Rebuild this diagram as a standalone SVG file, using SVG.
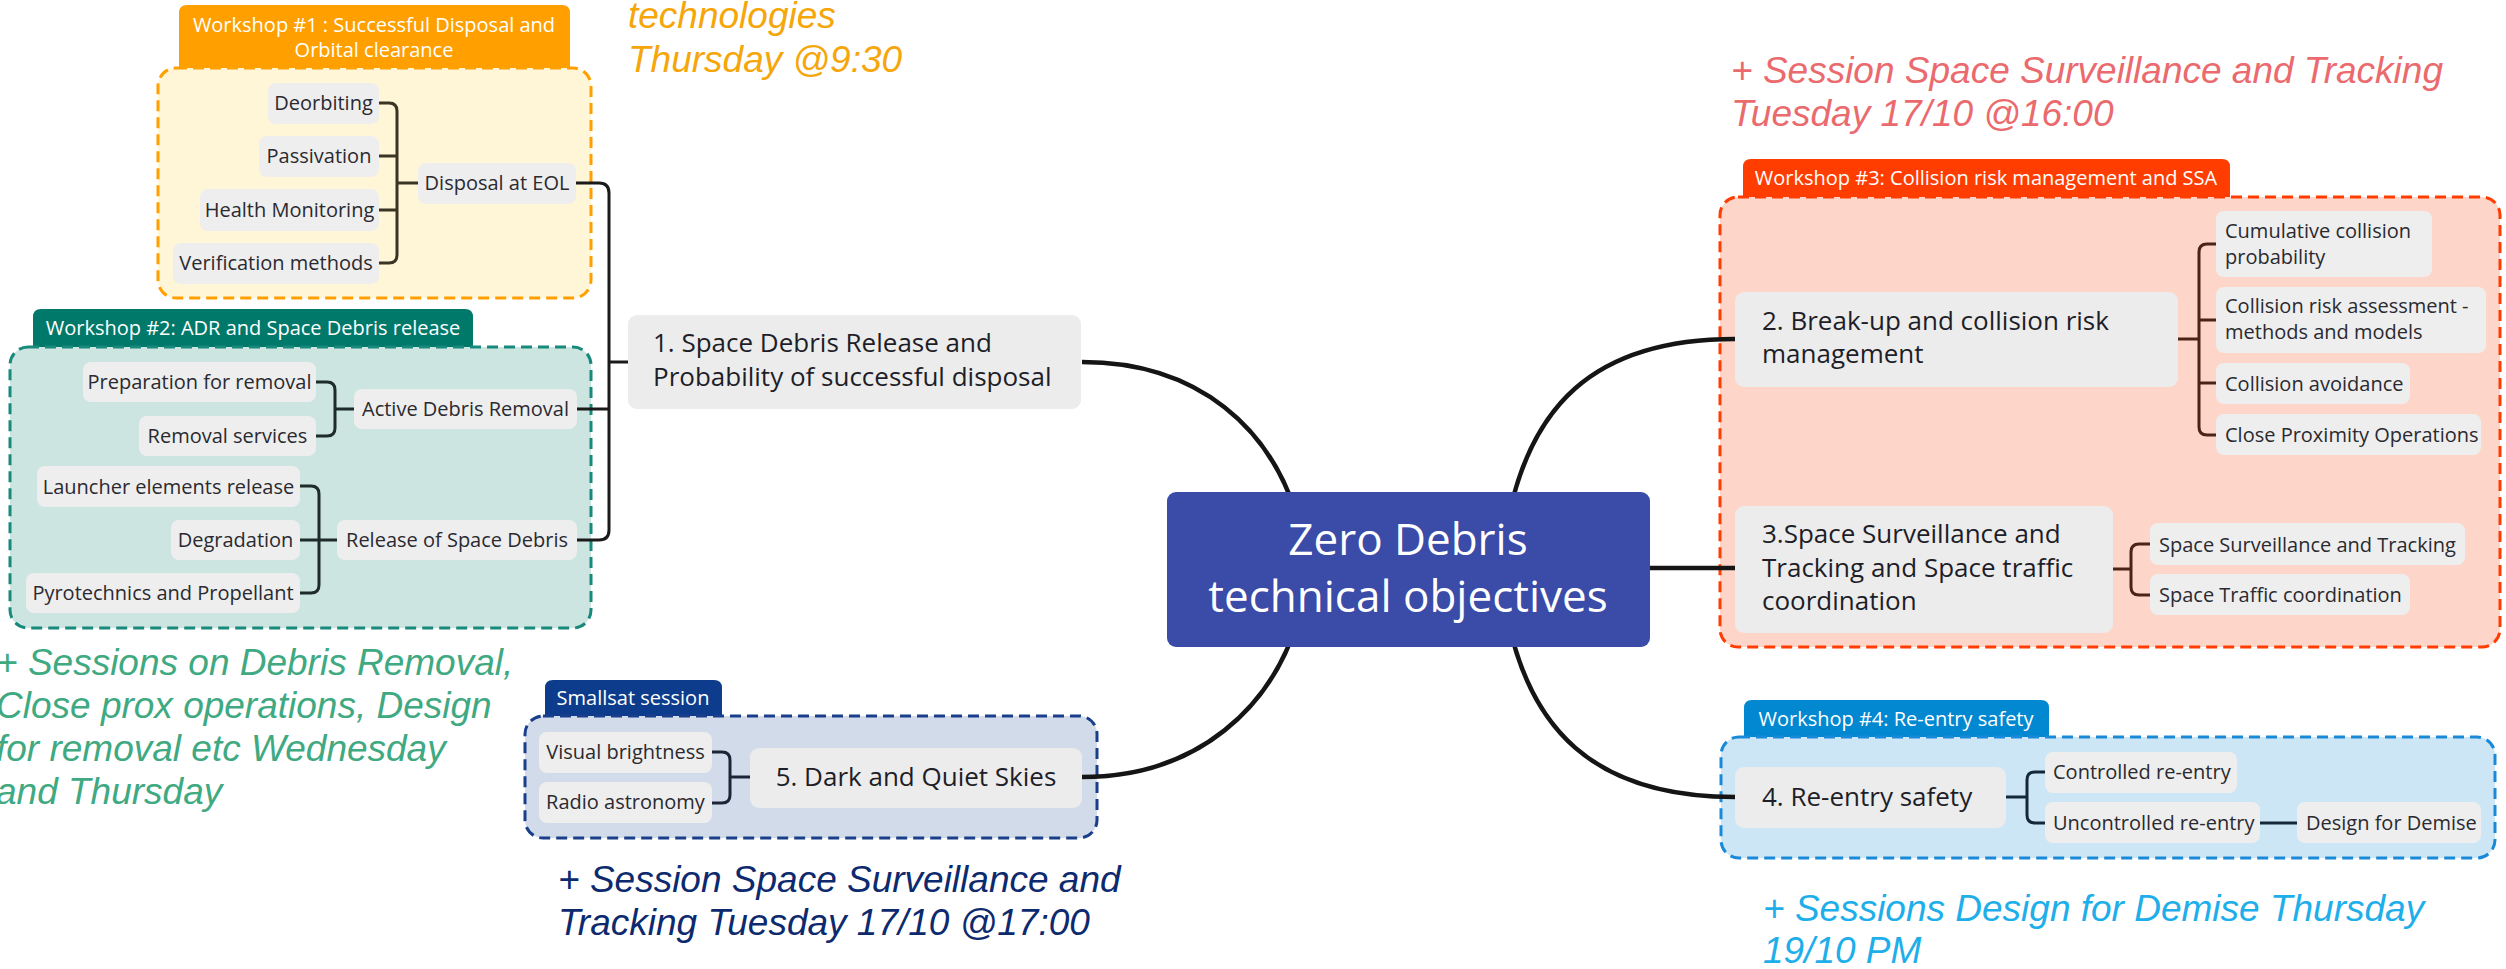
<svg xmlns="http://www.w3.org/2000/svg" width="2506" height="969" viewBox="0 0 2506 969">
<style>
.node{fill:#ececec}
.child{fill:#eeeeee}
.nt{font-family:"Open Sans","Noto Sans",sans-serif;font-size:26px;fill:#1e1e28}
.ct{font-family:"Open Sans","Noto Sans",sans-serif;font-size:20px;fill:#2a2a30;text-anchor:middle}
.ctl{font-family:"Open Sans","Noto Sans",sans-serif;font-size:20px;fill:#2a2a30}
.tt{font-family:"Open Sans","Noto Sans",sans-serif;font-size:20px;fill:#ffffff;text-anchor:middle}
.dash{stroke-width:3;stroke-dasharray:11 6}
.main{fill:none;stroke:#151515;stroke-width:4.5}
.br{fill:none;stroke-width:3}
.note{font-family:"Liberation Sans",Arial,sans-serif;font-style:italic;font-size:37px}
</style>

<!-- annotations -->
<g id="notes">
<text class="note" x="628" y="28" fill="#f5a60a">technologies</text>
<text class="note" x="628" y="72" fill="#f5a60a">Thursday @9:30</text>
<text class="note" x="1731" y="83" fill="#ea6a6e">+ Session Space Surveillance and Tracking</text>
<text class="note" x="1731" y="126" fill="#ea6a6e">Tuesday 17/10 @16:00</text>
<text class="note" x="-4" y="675" fill="#3fa982">+ Sessions on Debris Removal,</text>
<text class="note" x="-4" y="718" fill="#3fa982">Close prox operations, Design</text>
<text class="note" x="-4" y="761" fill="#3fa982">for removal etc Wednesday</text>
<text class="note" x="-4" y="804" fill="#3fa982">and Thursday</text>
<text class="note" x="558" y="892" fill="#0d2a6e">+ Session Space Surveillance and</text>
<text class="note" x="558" y="935" fill="#0d2a6e">Tracking Tuesday 17/10 @17:00</text>
<text class="note" x="1763" y="921" fill="#1eaeea">+ Sessions Design for Demise Thursday</text>
<text class="note" x="1763" y="963" fill="#1eaeea">19/10 PM</text>
</g>

<!-- group frames -->
<g id="workshop1">
<path d="M179,68 V13 Q179,5 187,5 H562 Q570,5 570,13 V68 Z" fill="#ffa000"/>
<text class="tt" x="374" y="32" font-size="18.5">Workshop #1 : Successful Disposal and</text>
<text class="tt" x="374" y="57" font-size="18.5">Orbital clearance</text>
<rect class="dash" x="158" y="68" width="433" height="230" rx="18" fill="#fff5d7" stroke="#ffa000"/>
</g>
<g id="workshop2">
<path d="M33,347 V317 Q33,309 41,309 H465 Q473,309 473,317 V347 Z" fill="#00796b"/>
<text class="tt" x="253" y="335">Workshop #2: ADR and Space Debris release</text>
<rect class="dash" x="10" y="347" width="581" height="281" rx="18" fill="#cde5e1" stroke="#188a7c"/>
</g>
<g id="smallsat">
<path d="M545,716 V688 Q545,680 553,680 H714 Q722,680 722,688 V716 Z" fill="#0d3c8c"/>
<text class="tt" x="633" y="705" font-size="19">Smallsat session</text>
<rect class="dash" x="525" y="716" width="572" height="122" rx="18" fill="#d2dbea" stroke="#1a3f8a"/>
</g>
<g id="workshop3">
<path d="M1743,197 V167 Q1743,159 1751,159 H2222 Q2230,159 2230,167 V197 Z" fill="#ff3d00"/>
<text class="tt" x="1986" y="185">Workshop #3: Collision risk management and SSA</text>
<rect class="dash" x="1720" y="197" width="780" height="450" rx="18" fill="#fdd6c9" stroke="#ff3d00"/>
</g>
<g id="workshop4">
<path d="M1744,737 V708 Q1744,700 1752,700 H2041 Q2049,700 2049,708 V737 Z" fill="#0288d1"/>
<text class="tt" x="1896" y="726">Workshop #4: Re-entry safety</text>
<rect class="dash" x="1721" y="737" width="774" height="121" rx="18" fill="#cde6f5" stroke="#1a8ad8"/>
</g>

<!-- connectors -->
<g id="connectors">
<path class="main" d="M1082,362 C1200,362 1272,430 1298,520"/>
<path class="main" d="M1082,777 C1200,777 1272,705 1298,620"/>
<path class="main" d="M1735,339 C1590,339 1530,410 1508,520"/>
<path class="main" d="M1735,797 C1590,797 1530,725 1508,620"/>
<path class="main" d="M1650,568 H1735"/>
<!-- trunk of node 1 -->
<path class="br" stroke="#1a1a1a" d="M576,183 H599 Q609,183 609,193 V530 Q609,540 599,540 H577 M577,409 H609 M609,362 H628"/>
<!-- workshop 1 -->
<path class="br" stroke="#3a3422" d="M379,103 H389 Q397,103 397,111 V255 Q397,263 389,263 H379 M379,156 H397 M379,210 H397 M397,183 H418"/>
<!-- workshop 2 -->
<path class="br" stroke="#1d2b29" d="M316,382 H327 Q335,382 335,390 V428 Q335,436 327,436 H316 M335,409 H354"/>
<path class="br" stroke="#1d2b29" d="M300,486 H311 Q319,486 319,494 V585 Q319,593 311,593 H300 M300,540 H337"/>
<!-- smallsat -->
<path class="br" stroke="#1c2438" d="M712,752 H722 Q730,752 730,760 V795 Q730,803 722,803 H712 M730,777 H750"/>
<!-- workshop 3 -->
<path class="br" stroke="#4a2418" d="M2216,244 H2207 Q2199,244 2199,252 V427 Q2199,435 2207,435 H2216 M2216,320 H2199 M2216,383 H2199 M2178,339 H2199"/>
<path class="br" stroke="#4a2418" d="M2150,544 H2139 Q2131,544 2131,552 V587 Q2131,595 2139,595 H2150 M2113,569 H2131"/>
<!-- workshop 4 -->
<path class="br" stroke="#14283a" d="M2045,772 H2035 Q2027,772 2027,780 V815 Q2027,823 2035,823 H2045 M2006,797 H2027 M2260,823 H2297"/>
</g>

<!-- central -->
<g id="central">
<rect x="1167" y="492" width="483" height="155" rx="9" fill="#3a4ba8"/>
<text x="1408" y="555" text-anchor="middle" font-family="Open Sans, Noto Sans, sans-serif" font-size="44" fill="#ffffff">Zero Debris</text>
<text x="1408" y="612" text-anchor="middle" font-family="Open Sans, Noto Sans, sans-serif" font-size="44" fill="#ffffff">technical objectives</text>
</g>

<g id="node1">
<rect class="node" x="628" y="315" width="453" height="94" rx="9"/>
<text class="nt" x="653" y="352">1. Space Debris Release and</text>
<text class="nt" x="653" y="386">Probability of successful disposal</text>
</g>
<g id="node2">
<rect class="node" x="1735" y="292" width="443" height="95" rx="9"/>
<text class="nt" x="1762" y="330">2. Break-up and collision risk</text>
<text class="nt" x="1762" y="363">management</text>
</g>
<g id="node3">
<rect class="node" x="1735" y="506" width="378" height="127" rx="9"/>
<text class="nt" x="1762" y="543">3.Space Surveillance and</text>
<text class="nt" x="1762" y="577">Tracking and Space traffic</text>
<text class="nt" x="1762" y="610">coordination</text>
</g>
<g id="node4">
<rect class="node" x="1735" y="767" width="271" height="61" rx="9"/>
<text class="nt" x="1762" y="806">4. Re-entry safety</text>
</g>
<g id="node5">
<rect class="node" x="750" y="748" width="332" height="60" rx="9"/>
<text class="nt" x="916" y="786" text-anchor="middle">5. Dark and Quiet Skies</text>
</g>

<!-- workshop 1 children -->
<g id="n-deorbiting"><rect class="child" x="268" y="83" width="111" height="41" rx="8"/><text class="ct" x="323.5" y="110">Deorbiting</text></g>
<g id="n-passivation"><rect class="child" x="259" y="136" width="120" height="41" rx="8"/><text class="ct" x="319" y="163">Passivation</text></g>
<g id="n-health"><rect class="child" x="200" y="189" width="179" height="42" rx="8"/><text class="ct" x="289.5" y="217">Health Monitoring</text></g>
<g id="n-verification"><rect class="child" x="173" y="243" width="206" height="41" rx="8"/><text class="ct" x="276" y="270">Verification methods</text></g>
<g id="n-disposal"><rect class="child" x="418" y="163" width="158" height="41" rx="8"/><text class="ct" x="497" y="190">Disposal at EOL</text></g>

<!-- workshop 2 children -->
<g id="n-prep"><rect class="child" x="83" y="362" width="233" height="40" rx="8"/><text class="ct" x="199.5" y="389">Preparation for removal</text></g>
<g id="n-services"><rect class="child" x="139" y="416" width="177" height="40" rx="8"/><text class="ct" x="227.5" y="443">Removal services</text></g>
<g id="n-adr"><rect class="child" x="354" y="389" width="223" height="40" rx="8"/><text class="ct" x="465.5" y="416">Active Debris Removal</text></g>
<g id="n-launcher"><rect class="child" x="37" y="466" width="263" height="41" rx="8"/><text class="ct" x="168.5" y="494">Launcher elements release</text></g>
<g id="n-degradation"><rect class="child" x="171" y="520" width="129" height="40" rx="8"/><text class="ct" x="235.5" y="547">Degradation</text></g>
<g id="n-pyro"><rect class="child" x="26" y="573" width="274" height="40" rx="8"/><text class="ct" x="163" y="600">Pyrotechnics and Propellant</text></g>
<g id="n-release"><rect class="child" x="337" y="520" width="240" height="40" rx="8"/><text class="ct" x="457" y="547">Release of Space Debris</text></g>

<!-- smallsat children -->
<g id="n-visual"><rect class="child" x="539" y="732" width="173" height="41" rx="8"/><text class="ct" x="625.5" y="759">Visual brightness</text></g>
<g id="n-radio"><rect class="child" x="539" y="782" width="173" height="41" rx="8"/><text class="ct" x="625.5" y="809">Radio astronomy</text></g>

<!-- workshop 3 children -->
<g id="n-cumulative"><rect class="child" x="2216" y="211" width="216" height="66" rx="8"/><text class="ctl" x="2225" y="238">Cumulative collision</text><text class="ctl" x="2225" y="264">probability</text></g>
<g id="n-assessment"><rect class="child" x="2216" y="287" width="270" height="66" rx="8"/><text class="ctl" x="2225" y="313">Collision risk assessment -</text><text class="ctl" x="2225" y="339">methods and models</text></g>
<g id="n-avoidance"><rect class="child" x="2216" y="363" width="194" height="41" rx="8"/><text class="ctl" x="2225" y="391">Collision avoidance</text></g>
<g id="n-cpo"><rect class="child" x="2216" y="414" width="265" height="41" rx="8"/><text class="ctl" x="2225" y="442">Close Proximity Operations</text></g>
<g id="n-sst"><rect class="child" x="2150" y="523" width="315" height="42" rx="8"/><text class="ctl" x="2159" y="552">Space Surveillance and Tracking</text></g>
<g id="n-stc"><rect class="child" x="2150" y="574" width="260" height="41" rx="8"/><text class="ctl" x="2159" y="602">Space Traffic coordination</text></g>

<!-- workshop 4 children -->
<g id="n-controlled"><rect class="child" x="2045" y="752" width="192" height="41" rx="8"/><text class="ctl" x="2053" y="779">Controlled re-entry</text></g>
<g id="n-uncontrolled"><rect class="child" x="2045" y="802" width="215" height="41" rx="8"/><text class="ctl" x="2053" y="830">Uncontrolled re-entry</text></g>
<g id="n-demise"><rect class="child" x="2297" y="802" width="184" height="41" rx="8"/><text class="ctl" x="2306" y="830">Design for Demise</text></g>
</svg>
